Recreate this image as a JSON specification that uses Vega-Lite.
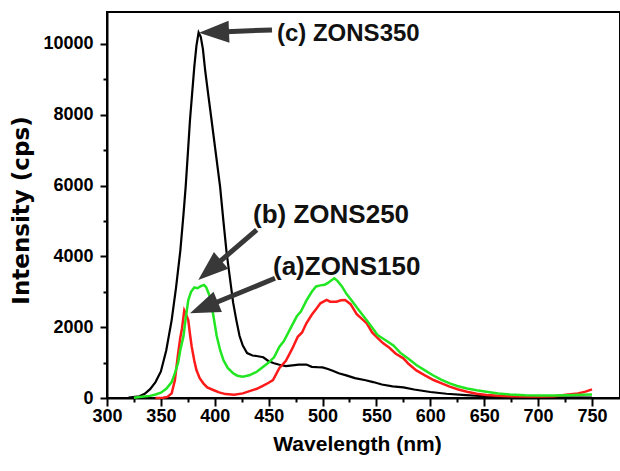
{
  "$schema": "https://vega.github.io/schema/vega-lite/v6.json",
  "width": 513,
  "height": 386,
  "autosize": {"type": "none"},
  "padding": {"left": 107, "right": 0, "top": 12, "bottom": 73},
  "background": "white",
  "config": {
    "view": {"stroke": "black", "strokeWidth": 2},
    "font": "Liberation Sans"
  },
  "datasets": {
    "spectra": [
      {"series": "c", "wl": 320, "I": 10}, {"series": "c", "wl": 330, "I": 50}, {"series": "c", "wl": 335, "I": 120},
      {"series": "c", "wl": 340, "I": 250}, {"series": "c", "wl": 345, "I": 450}, {"series": "c", "wl": 350, "I": 750},
      {"series": "c", "wl": 355, "I": 1350}, {"series": "c", "wl": 360, "I": 2200}, {"series": "c", "wl": 364, "I": 3100},
      {"series": "c", "wl": 368, "I": 4150}, {"series": "c", "wl": 371, "I": 5200}, {"series": "c", "wl": 373, "I": 5970},
      {"series": "c", "wl": 375, "I": 6900}, {"series": "c", "wl": 377, "I": 7850}, {"series": "c", "wl": 379, "I": 8600},
      {"series": "c", "wl": 381, "I": 9350}, {"series": "c", "wl": 383, "I": 9950}, {"series": "c", "wl": 385, "I": 10320},
      {"series": "c", "wl": 387, "I": 10200}, {"series": "c", "wl": 389, "I": 9850}, {"series": "c", "wl": 391, "I": 9270},
      {"series": "c", "wl": 394, "I": 8550}, {"series": "c", "wl": 397, "I": 7850}, {"series": "c", "wl": 401, "I": 6900},
      {"series": "c", "wl": 405, "I": 5950}, {"series": "c", "wl": 408, "I": 5000}, {"series": "c", "wl": 411, "I": 4100},
      {"series": "c", "wl": 414, "I": 3400}, {"series": "c", "wl": 417, "I": 2700}, {"series": "c", "wl": 420, "I": 2200},
      {"series": "c", "wl": 423, "I": 1750}, {"series": "c", "wl": 426, "I": 1480}, {"series": "c", "wl": 430, "I": 1270},
      {"series": "c", "wl": 435, "I": 1200}, {"series": "c", "wl": 440, "I": 1180}, {"series": "c", "wl": 445, "I": 1150},
      {"series": "c", "wl": 450, "I": 1040}, {"series": "c", "wl": 455, "I": 980}, {"series": "c", "wl": 460, "I": 940},
      {"series": "c", "wl": 466, "I": 900}, {"series": "c", "wl": 472, "I": 920}, {"series": "c", "wl": 478, "I": 940},
      {"series": "c", "wl": 485, "I": 945}, {"series": "c", "wl": 490, "I": 880}, {"series": "c", "wl": 495, "I": 870},
      {"series": "c", "wl": 500, "I": 865}, {"series": "c", "wl": 505, "I": 820}, {"series": "c", "wl": 510, "I": 760},
      {"series": "c", "wl": 515, "I": 700}, {"series": "c", "wl": 522, "I": 640}, {"series": "c", "wl": 530, "I": 560},
      {"series": "c", "wl": 540, "I": 500}, {"series": "c", "wl": 547, "I": 450}, {"series": "c", "wl": 555, "I": 380},
      {"series": "c", "wl": 565, "I": 330}, {"series": "c", "wl": 575, "I": 300}, {"series": "c", "wl": 585, "I": 240},
      {"series": "c", "wl": 600, "I": 170}, {"series": "c", "wl": 615, "I": 120}, {"series": "c", "wl": 633, "I": 80},
      {"series": "c", "wl": 650, "I": 50}, {"series": "c", "wl": 670, "I": 30}, {"series": "c", "wl": 700, "I": 15},
      {"series": "c", "wl": 750, "I": 10},

      {"series": "a", "wl": 345, "I": 0}, {"series": "a", "wl": 352, "I": 5}, {"series": "a", "wl": 356, "I": 30},
      {"series": "a", "wl": 360, "I": 130}, {"series": "a", "wl": 363, "I": 500}, {"series": "a", "wl": 366, "I": 1260},
      {"series": "a", "wl": 368, "I": 1700}, {"series": "a", "wl": 369.5, "I": 1950}, {"series": "a", "wl": 371.7, "I": 2470},
      {"series": "a", "wl": 373.5, "I": 2350}, {"series": "a", "wl": 375.4, "I": 2200}, {"series": "a", "wl": 377, "I": 1800},
      {"series": "a", "wl": 378.6, "I": 1450}, {"series": "a", "wl": 381, "I": 1050}, {"series": "a", "wl": 383, "I": 790},
      {"series": "a", "wl": 386, "I": 560}, {"series": "a", "wl": 389.4, "I": 414}, {"series": "a", "wl": 393, "I": 300},
      {"series": "a", "wl": 398.6, "I": 226}, {"series": "a", "wl": 404, "I": 160}, {"series": "a", "wl": 410, "I": 110},
      {"series": "a", "wl": 418, "I": 95}, {"series": "a", "wl": 426, "I": 130}, {"series": "a", "wl": 433, "I": 200},
      {"series": "a", "wl": 439, "I": 260}, {"series": "a", "wl": 445, "I": 350}, {"series": "a", "wl": 450, "I": 430},
      {"series": "a", "wl": 454, "I": 508}, {"series": "a", "wl": 460, "I": 850}, {"series": "a", "wl": 466, "I": 1050},
      {"series": "a", "wl": 472, "I": 1400}, {"series": "a", "wl": 477, "I": 1730}, {"series": "a", "wl": 481, "I": 1850},
      {"series": "a", "wl": 485, "I": 2110}, {"series": "a", "wl": 490, "I": 2350}, {"series": "a", "wl": 494.6, "I": 2534},
      {"series": "a", "wl": 498, "I": 2675}, {"series": "a", "wl": 503.8, "I": 2768}, {"series": "a", "wl": 507, "I": 2720},
      {"series": "a", "wl": 513, "I": 2720}, {"series": "a", "wl": 517, "I": 2760}, {"series": "a", "wl": 521, "I": 2768},
      {"series": "a", "wl": 526, "I": 2650}, {"series": "a", "wl": 531.7, "I": 2370}, {"series": "a", "wl": 536, "I": 2250},
      {"series": "a", "wl": 541, "I": 2110}, {"series": "a", "wl": 546, "I": 1850}, {"series": "a", "wl": 551, "I": 1700},
      {"series": "a", "wl": 556, "I": 1550}, {"series": "a", "wl": 562, "I": 1420}, {"series": "a", "wl": 568, "I": 1250},
      {"series": "a", "wl": 575, "I": 1120}, {"series": "a", "wl": 580, "I": 960}, {"series": "a", "wl": 587, "I": 780},
      {"series": "a", "wl": 595, "I": 640}, {"series": "a", "wl": 603, "I": 508}, {"series": "a", "wl": 610, "I": 420},
      {"series": "a", "wl": 618, "I": 320}, {"series": "a", "wl": 626, "I": 240}, {"series": "a", "wl": 634, "I": 178},
      {"series": "a", "wl": 643, "I": 120}, {"series": "a", "wl": 652, "I": 85}, {"series": "a", "wl": 663, "I": 65},
      {"series": "a", "wl": 674, "I": 50}, {"series": "a", "wl": 690, "I": 42}, {"series": "a", "wl": 702, "I": 40},
      {"series": "a", "wl": 715, "I": 50}, {"series": "a", "wl": 726, "I": 90}, {"series": "a", "wl": 737, "I": 130},
      {"series": "a", "wl": 744, "I": 180}, {"series": "a", "wl": 750, "I": 245},

      {"series": "b", "wl": 325, "I": 10}, {"series": "b", "wl": 330, "I": 30}, {"series": "b", "wl": 340, "I": 60},
      {"series": "b", "wl": 345, "I": 100}, {"series": "b", "wl": 350, "I": 150}, {"series": "b", "wl": 355, "I": 260},
      {"series": "b", "wl": 360, "I": 450}, {"series": "b", "wl": 363, "I": 700}, {"series": "b", "wl": 366, "I": 1000},
      {"series": "b", "wl": 368, "I": 1350}, {"series": "b", "wl": 371, "I": 1750}, {"series": "b", "wl": 373, "I": 2250},
      {"series": "b", "wl": 375.5, "I": 2770}, {"series": "b", "wl": 378, "I": 3000}, {"series": "b", "wl": 381, "I": 3120},
      {"series": "b", "wl": 384, "I": 3100}, {"series": "b", "wl": 387, "I": 3160}, {"series": "b", "wl": 390, "I": 3190},
      {"series": "b", "wl": 392, "I": 3130}, {"series": "b", "wl": 395, "I": 2900}, {"series": "b", "wl": 398, "I": 2450},
      {"series": "b", "wl": 401.8, "I": 1750}, {"series": "b", "wl": 405, "I": 1350}, {"series": "b", "wl": 408, "I": 1070},
      {"series": "b", "wl": 412, "I": 850}, {"series": "b", "wl": 417, "I": 700}, {"series": "b", "wl": 421, "I": 630},
      {"series": "b", "wl": 426, "I": 600}, {"series": "b", "wl": 432, "I": 640}, {"series": "b", "wl": 439, "I": 740},
      {"series": "b", "wl": 445, "I": 885}, {"series": "b", "wl": 450, "I": 1000}, {"series": "b", "wl": 455, "I": 1150},
      {"series": "b", "wl": 460, "I": 1450}, {"series": "b", "wl": 464, "I": 1600}, {"series": "b", "wl": 470, "I": 1950},
      {"series": "b", "wl": 476, "I": 2300}, {"series": "b", "wl": 480, "I": 2450}, {"series": "b", "wl": 485, "I": 2750},
      {"series": "b", "wl": 490, "I": 3000}, {"series": "b", "wl": 494, "I": 3150}, {"series": "b", "wl": 498, "I": 3180},
      {"series": "b", "wl": 502, "I": 3200}, {"series": "b", "wl": 505, "I": 3250}, {"series": "b", "wl": 508, "I": 3320},
      {"series": "b", "wl": 511, "I": 3380}, {"series": "b", "wl": 514, "I": 3300}, {"series": "b", "wl": 518, "I": 3150},
      {"series": "b", "wl": 522, "I": 2950}, {"series": "b", "wl": 527, "I": 2750}, {"series": "b", "wl": 532, "I": 2550},
      {"series": "b", "wl": 537, "I": 2350}, {"series": "b", "wl": 542, "I": 2150}, {"series": "b", "wl": 547, "I": 1950},
      {"series": "b", "wl": 551, "I": 1780}, {"series": "b", "wl": 556, "I": 1680}, {"series": "b", "wl": 561, "I": 1580},
      {"series": "b", "wl": 566, "I": 1480}, {"series": "b", "wl": 572, "I": 1280}, {"series": "b", "wl": 580, "I": 1100},
      {"series": "b", "wl": 587, "I": 930}, {"series": "b", "wl": 595, "I": 780}, {"series": "b", "wl": 602, "I": 650},
      {"series": "b", "wl": 610, "I": 520}, {"series": "b", "wl": 618, "I": 414}, {"series": "b", "wl": 625, "I": 340},
      {"series": "b", "wl": 634, "I": 270}, {"series": "b", "wl": 643, "I": 220}, {"series": "b", "wl": 652, "I": 178},
      {"series": "b", "wl": 663, "I": 130}, {"series": "b", "wl": 674, "I": 100}, {"series": "b", "wl": 688, "I": 80},
      {"series": "b", "wl": 702, "I": 70}, {"series": "b", "wl": 715, "I": 72}, {"series": "b", "wl": 727, "I": 80},
      {"series": "b", "wl": 740, "I": 90}, {"series": "b", "wl": 750, "I": 100}
    ],
    "arrows": [
      {"id": "c", "wl": 453.1, "I": 10395, "wl2": 399.3, "I2": 10328, "tipwl": 385.4, "tipI": 10311},
      {"id": "b", "wl": 438.9, "I": 4746, "wl2": 395.3, "I2": 3610, "tipwl": 384.7, "tipI": 3333},
      {"id": "a", "wl": 455.9, "I": 3381, "wl2": 389.9, "I2": 2554, "tipwl": 377.0, "tipI": 2393}
    ],
    "labels": [
      {"id": "c", "text": "(c) ZONS350", "wl": 457.7, "I": 10085},
      {"id": "b", "text": "(b) ZONS250", "wl": 435.5, "I": 4944},
      {"id": "a", "text": "(a)ZONS150", "wl": 454, "I": 3475}
    ]
  },
  "encoding": {
    "x": {
      "field": "wl", "type": "quantitative",
      "scale": {"domain": [300, 776], "nice": false, "zero": false},
      "axis": {
        "title": "Wavelength (nm)",
        "values": [300, 325, 350, 375, 400, 425, 450, 475, 500, 525, 550, 575, 600, 625, 650, 675, 700, 725, 750],
        "labelExpr": "datum.value % 50 === 0 ? datum.label : ''",
        "grid": false,
        "domainColor": "black", "domainWidth": 2,
        "tickColor": "black", "tickWidth": 2,
        "tickSize": {"condition": {"test": "datum.value % 50 === 0", "value": 8}, "value": 4},
        "labelFont": "Liberation Sans", "labelFontWeight": "bold", "labelFontSize": 18, "labelColor": "black",
        "labelPadding": 1, "labelFlush": false,
        "titleFont": "Liberation Sans", "titleFontWeight": "bold", "titleFontSize": 21, "titleColor": "black",
        "titleX": 250, "titleY": 52, "titleBaseline": "alphabetic", "titleAlign": "center"
      }
    },
    "y": {
      "field": "I", "type": "quantitative",
      "scale": {"domain": [0, 10900], "nice": false},
      "axis": {
        "title": "Intensity (cps)",
        "values": [0, 1000, 2000, 3000, 4000, 5000, 6000, 7000, 8000, 9000, 10000],
        "labelExpr": "datum.value % 2000 === 0 ? datum.label : ''",
        "format": "d",
        "grid": false,
        "domainColor": "black", "domainWidth": 2,
        "tickColor": "black", "tickWidth": 2,
        "tickSize": {"condition": {"test": "datum.value % 2000 === 0", "value": 7}, "value": 4},
        "labelFont": "Liberation Sans", "labelFontWeight": "bold", "labelFontSize": 18, "labelColor": "black",
        "labelPadding": 7, "labelFlush": false,
        "titleFont": "DejaVu Sans", "titleFontWeight": "bold", "titleFontSize": 23, "titleColor": "black",
        "titleX": -86, "titleY": 198, "titleAngle": 270, "titleBaseline": "middle", "titleAlign": "center"
      }
    }
  },
  "layer": [
    {
      "data": {"name": "spectra"},
      "transform": [{"filter": "datum.series === 'c'"}],
      "mark": {"type": "line", "color": "#000000", "strokeWidth": 2.2}
    },
    {
      "data": {"name": "spectra"},
      "transform": [{"filter": "datum.series === 'a'"}],
      "mark": {"type": "line", "color": "#ff1a1a", "strokeWidth": 2.5}
    },
    {
      "data": {"name": "spectra"},
      "transform": [{"filter": "datum.series === 'b'"}],
      "mark": {"type": "line", "color": "#22e622", "strokeWidth": 2.5}
    },
    {
      "data": {"name": "arrows"},
      "mark": {"type": "rule", "color": "#383838", "strokeWidth": 5},
      "encoding": {
        "x2": {"field": "wl2"},
        "y2": {"field": "I2"}
      }
    },
    {
      "data": {"name": "arrows"},
      "mark": {"type": "point", "shape": "M0,0L0.733,2L-0.733,2Z", "filled": true, "color": "#383838", "opacity": 1, "size": 900, "strokeWidth": 0},
      "encoding": {
        "x": {"field": "tipwl", "type": "quantitative"},
        "y": {"field": "tipI", "type": "quantitative"},
        "angle": {"condition": [{"test": "datum.id === 'a'", "value": 247.6}, {"test": "datum.id === 'b'", "value": 229.4}], "value": 267.7}
      }
    },
    {
      "data": {"name": "labels"},
      "mark": {"type": "text", "align": "left", "baseline": "alphabetic", "font": "Liberation Sans", "fontWeight": "bold", "color": "#111111"},
      "encoding": {
        "text": {"field": "text"},
        "size": {"condition": {"test": "datum.id === 'c'", "value": 24}, "value": 26}
      }
    }
  ]
}
